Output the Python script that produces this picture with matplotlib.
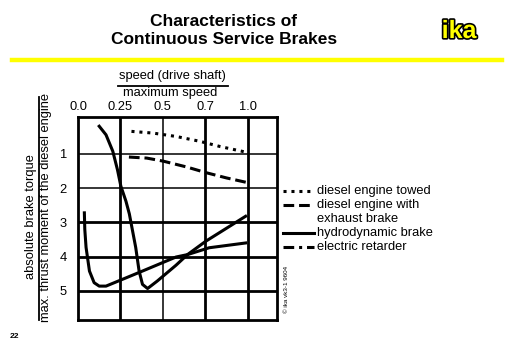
import matplotlib
matplotlib.use("Agg")
import matplotlib.pyplot as plt
from matplotlib.lines import Line2D
import matplotlib.patheffects as pe

plt.rcParams['font.family'] = ['Liberation Sans', 'DejaVu Sans']

# x positions are grid positions of the speed ticks
speed_ticks = ["0.0", "0.25", "0.5", "0.7", "1.0"]
torque_ticks = [1, 2, 3, 4, 5]

towed_x = [1.26, 1.77, 2.32, 2.87, 3.34, 3.97]
towed_y = [0.34, 0.39, 0.49, 0.63, 0.78, 0.95]

exhaust_x = [1.20, 1.62, 2.01, 2.56, 3.03, 3.50, 3.97]
exhaust_y = [1.09, 1.12, 1.21, 1.38, 1.55, 1.70, 1.83]

hydro_x = [0.50, 0.66, 0.82, 0.93, 1.01, 1.13, 1.21, 1.36, 1.44, 1.52, 1.64, 1.87, 2.31, 2.58, 3.01, 3.95]
hydro_y = [0.19, 0.44, 0.92, 1.46, 1.94, 2.38, 2.75, 3.73, 4.42, 4.81, 4.93, 4.71, 4.25, 3.94, 3.55, 2.82]

retarder_x = [0.15, 0.16, 0.19, 0.27, 0.38, 0.50, 0.66, 1.13, 1.52, 2.31, 2.58, 3.09, 3.95]
retarder_y = [2.72, 3.20, 3.73, 4.42, 4.76, 4.86, 4.86, 4.62, 4.42, 4.01, 3.94, 3.74, 3.60]

legend_labels = ["diesel engine towed", "diesel engine with", "exhaust brake",
                 "hydrodynamic brake", "electric retarder"]

W, H = 512, 354
fig = plt.figure(figsize=(W / 100, H / 100), dpi=100)
fig.patch.set_facecolor("white")

def fx(px):
    return px / W

def fy(py):
    return 1 - py / H

FS = 9.3

ax = fig.add_axes([fx(78), fy(320), fx(277) - fx(78), fy(117) - fy(320)])
ax.set_xlim(0, 4.69)
ax.set_ylim(5.85, -0.08)

# grid lines
thick_x = {1, 3, 4}
for i in range(1, 5):
    ax.axvline(i, color="black", lw=2.0 if i in thick_x else 1.1, zorder=1)
thick_y = {3, 4, 5}
for t in torque_ticks:
    ax.axhline(t, color="black", lw=2.0 if t in thick_y else 1.1, zorder=1)
for s in ax.spines.values():
    s.set_linewidth(2.0)

ax.xaxis.tick_top()
ax.set_xticks(range(len(speed_ticks)))
ax.set_xticklabels(speed_ticks)
ax.set_yticks(torque_ticks)
ax.set_yticklabels([str(t) for t in torque_ticks])
ax.tick_params(axis="x", length=0, labelsize=FS, pad=3)
ax.tick_params(axis="y", length=0, labelsize=FS, pad=8)

lw = 2.2
ax.plot(towed_x, towed_y, color="black", lw=lw, dashes=(1, 1.6), dash_capstyle="butt", zorder=3)
ax.plot(exhaust_x, exhaust_y, color="black", lw=lw, dashes=(3.5, 1.6), zorder=3)
ax.plot(hydro_x, hydro_y, color="black", lw=lw, zorder=3, solid_joinstyle="round")
ax.plot(retarder_x, retarder_y, color="black", lw=lw, zorder=3, solid_joinstyle="round")

# title
fig.text(fx(224), fy(21), "Characteristics of", ha="center", va="center",
         fontsize=12.5, fontweight="bold")
fig.text(fx(224), fy(40), "Continuous Service Brakes", ha="center", va="center",
         fontsize=12.5, fontweight="bold")
fig.add_artist(Line2D([fx(12), fx(502)], [fy(60), fy(60)], color="#ffff00", lw=3.2))
t = fig.text(fx(459), fy(31), "ika", ha="center", va="center", fontsize=18,
             fontweight="bold", color="#ffff00")
t.set_path_effects([pe.Stroke(linewidth=2.4, foreground="black"), pe.Normal()])
fig.text(fx(14), fy(337), "22", ha="center", va="center", fontsize=6, fontweight="bold")

# x label as fraction
fig.text(fx(172), fy(76), "speed (drive shaft)", ha="center", va="center", fontsize=FS)
fig.add_artist(Line2D([fx(118), fx(228)], [fy(86), fy(86)], color="black", lw=1.3))
fig.text(fx(170), fy(93), "maximum speed", ha="center", va="center", fontsize=FS)

# y label as fraction
fig.text(fx(31), fy(217), "absolute brake torque", ha="center", va="center",
         rotation=90, fontsize=FS)
fig.add_artist(Line2D([fx(39), fx(39)], [fy(97), fy(320)], color="black", lw=1.3))
fig.text(fx(46), fy(208), "max. thrust moment of the diesel engine", ha="center",
         va="center", rotation=90, fontsize=FS)

# legend
styles = [dict(dashes=(1, 1.6), dash_capstyle="butt"),
          dict(dashes=(3.5, 1.6, 3.5, 1.6, 1, 1.6)),
          None,
          dict(),
          dict(dashes=(3.5, 1.6, 1, 1.6, 3.5, 1.6))]
rows = [191, 205, 219, 233, 247]
for lab, st, r in zip(legend_labels, styles, rows):
    if st is not None:
        fig.add_artist(Line2D([fx(283), fx(314)], [fy(r), fy(r)], color="black", lw=lw, **st))
    fig.text(fx(317), fy(r), lab, ha="left", va="center", fontsize=FS)

fig.text(fx(287), fy(289), "© ika vk3-1 9604", ha="center", va="center",
         rotation=90, fontsize=4.5)

fig.savefig("out.png", dpi=100)
